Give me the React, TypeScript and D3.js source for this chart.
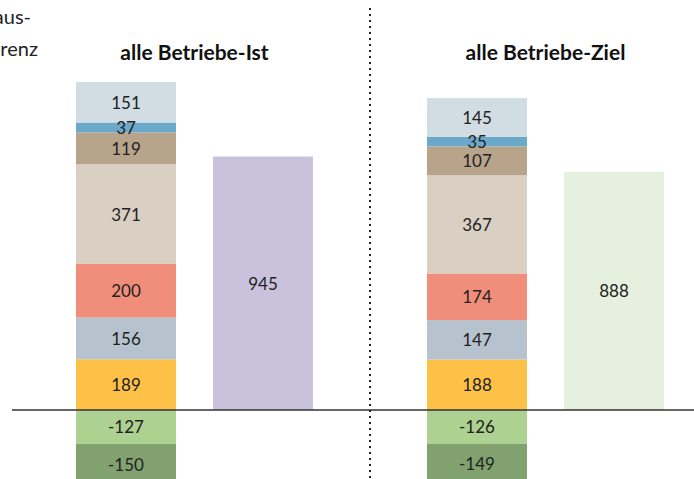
import { useEffect, useRef } from 'react';
import * as d3 from 'd3';

// stacked segments, bottom (negative) to top
const segmentKeys = ['s1', 's2', 's3', 's4', 's5', 's6', 's7', 'n1', 'n2'];
const segmentColors = ['#fdc147', '#b6c3cf', '#f08e7b', '#d9cfc3', '#b8a48a', '#6aa9c9', '#d1dde2', '#acd190', '#81a16e'];
const istValues = [189, 156, 200, 371, 119, 37, 151, -127, -150];
const zielValues = [188, 147, 174, 367, 107, 35, 145, -126, -149];

const groups = ['Ist', 'Ziel'];
const titles = ['alle Betriebe-Ist', 'alle Betriebe-Ziel'];
const totals = [945, 888];
const totalColors = ['#c9c2dc', '#e5f0de'];
const sideLabels = ['Haus-', 'Differenz'];

const W = 694;
const H = 479;

export default function App() {
  const svgRef = useRef<SVGSVGElement>(null);

  useEffect(() => {
    if (!svgRef.current) return;
    const svg = d3.select(svgRef.current);
    svg.selectAll('*').remove();

    const font = 'Lato, "Open Sans", sans-serif';

    const y = d3.scaleLinear().domain([0, 1223]).range([410, 82]);

    const outer = d3.scaleBand<string>().domain(groups).range([76, 778]).paddingInner(0);
    const inner = d3.scaleBand<string>().domain(['stack', 'total']).range([0, 237]).paddingInner(0.27);
    const bw = inner.bandwidth();

    // side text (cut off at left, as in the source)
    sideLabels.forEach((t, i) => {
      svg.append('text')
        .attr('x', i === 0 ? 31 : 38)
        .attr('y', 24 + i * 32)
        .attr('text-anchor', 'end')
        .attr('fill', '#222')
        .style('font-family', font)
        .style('font-size', '20px')
        .text(t);
    });

    groups.forEach((g, gi) => {
      const vals = gi === 0 ? istValues : zielValues;
      const x0 = outer(g)! + inner('stack')!;
      let pos = 0;
      let neg = 0;
      const segs = vals.map((v, i) => {
        let a: number, b: number;
        if (v >= 0) { a = pos; b = pos + v; pos = b; }
        else { a = neg; b = neg + v; neg = b; }
        return { key: segmentKeys[i], v, a, b, color: segmentColors[i] };
      });

      const sg = svg.append('g');
      sg.selectAll('rect')
        .data(segs)
        .enter()
        .append('rect')
        .attr('x', x0)
        .attr('width', bw)
        .attr('y', d => Math.min(y(d.a), y(d.b)))
        .attr('height', d => Math.abs(y(d.a) - y(d.b)))
        .attr('fill', d => d.color);

      sg.selectAll('text')
        .data(segs)
        .enter()
        .append('text')
        .attr('x', x0 + bw / 2)
        .attr('y', d => (y(d.a) + y(d.b)) / 2)
        .attr('dy', '0.38em')
        .attr('text-anchor', 'middle')
        .attr('fill', '#222')
        .style('font-family', font)
        .style('font-size', '17px')
        .text(d => d.v);

      // total bar
      const x1 = outer(g)! + inner('total')!;
      svg.append('rect')
        .attr('x', x1)
        .attr('width', bw)
        .attr('y', y(totals[gi]))
        .attr('height', y(0) - y(totals[gi]))
        .attr('fill', totalColors[gi]);
      svg.append('text')
        .attr('x', x1 + bw / 2)
        .attr('y', y(totals[gi] / 2))
        .attr('dy', '0.38em')
        .attr('text-anchor', 'middle')
        .attr('fill', '#222')
        .style('font-family', font)
        .style('font-size', '17px')
        .text(totals[gi]);

      // title
      svg.append('text')
        .attr('x', (x0 + x1 + bw) / 2)
        .attr('y', 60)
        .attr('text-anchor', 'middle')
        .attr('fill', '#111')
        .style('font-family', font)
        .style('font-weight', 'bold')
        .style('font-size', '21px')
        .text(titles[gi]);
    });

    // zero line
    svg.append('line')
      .attr('x1', 12)
      .attr('x2', W)
      .attr('y1', y(0))
      .attr('y2', y(0))
      .attr('stroke', '#333')
      .attr('stroke-width', 1.5);

    // dotted separator
    const sepX = outer('Ziel')! - 57;
    svg.append('line')
      .attr('x1', sepX)
      .attr('x2', sepX)
      .attr('y1', 8)
      .attr('y2', H)
      .attr('stroke', '#222')
      .attr('stroke-width', 2)
      .attr('stroke-dasharray', '2,4');
  }, []);

  return (
    <div style={{ position: 'fixed', left: 0, top: 0, width: W, height: H, background: '#fff' }}>
      <svg ref={svgRef} width={W} height={H} style={{ display: 'block' }} />
    </div>
  );
}
